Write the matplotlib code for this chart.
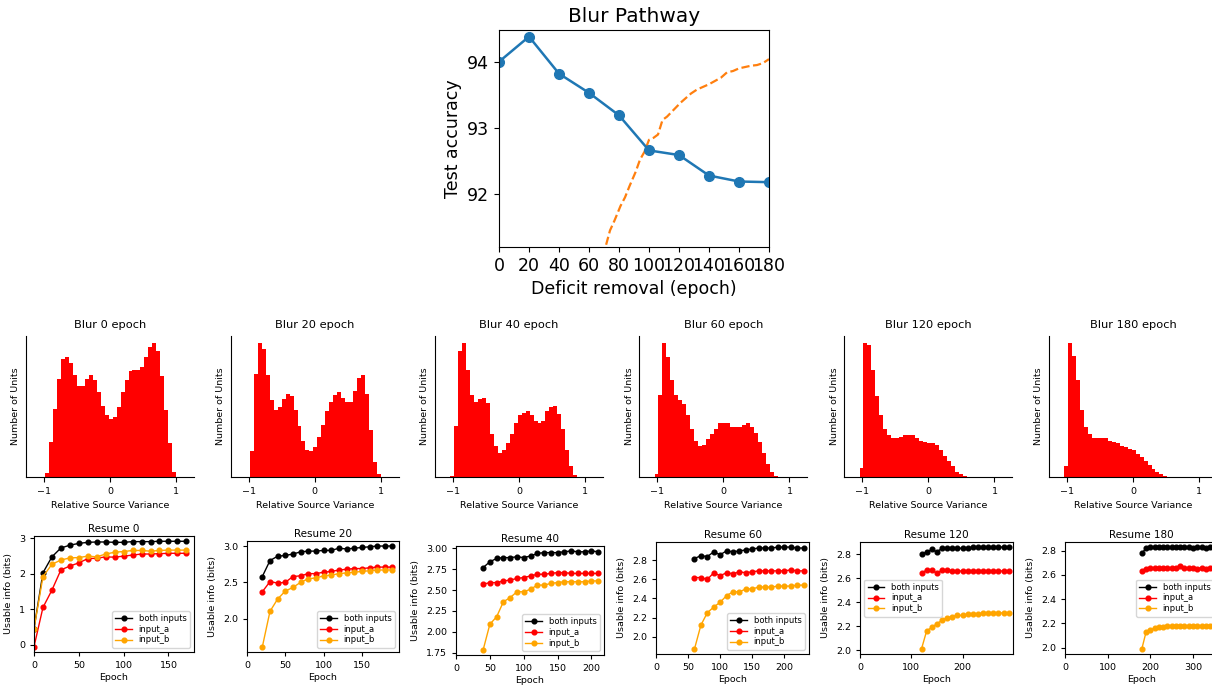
import matplotlib
matplotlib.use("Agg")
import matplotlib.pyplot as plt
import numpy as np

# ---- top panel: test accuracy vs deficit removal epoch ----
removal_epochs = [0, 20, 40, 60, 80, 100, 120, 140, 160, 180]
removal_acc = [94.0, 94.38, 93.82, 93.53, 93.19, 92.66, 92.59, 92.28, 92.19, 92.18]

control_epochs = [66, 71, 74, 77, 81, 84, 87, 91, 94, 97, 100, 103, 106, 109, 112, 115,
                  118, 121, 124, 128, 132, 136, 140, 144, 148, 152, 156, 160, 164,
                  168, 172, 176, 180]
control_acc = [90.9, 91.2, 91.45, 91.6, 91.82, 91.95, 92.12, 92.33, 92.52, 92.64, 92.82,
               92.85, 92.9, 93.12, 93.17, 93.24, 93.31, 93.38, 93.44, 93.52, 93.58,
               93.62, 93.66, 93.71, 93.76, 93.84, 93.86, 93.9, 93.92, 93.94, 93.95,
               93.98, 94.04]

# ---- histograms of relative source variance ----
hist_titles = ["Blur 0 epoch", "Blur 20 epoch", "Blur 40 epoch",
               "Blur 60 epoch", "Blur 120 epoch", "Blur 180 epoch"]
bin_edges = np.round(np.linspace(-1.04, 1.06, 36), 2)
blur0 = [0, 3, 26, 51, 73, 88, 89, 85, 76, 68, 68, 73, 76, 72, 63, 53, 46, 43, 45, 52,
         63, 72, 79, 80, 80, 82, 89, 97, 100, 94, 75, 50, 25, 3.5, 0]
blur20 = [0, 19, 77, 100, 95, 76, 57, 50, 52, 58, 62, 60, 50, 38, 27, 20, 19, 22, 30, 39,
          49, 56, 61, 63, 59, 56, 56, 64, 74, 76, 62, 35, 11, 2, 0]
blur40 = [1, 38, 94, 100, 80, 61, 56, 58, 59, 55, 32, 23, 18, 20, 25, 32, 40, 46, 48, 49,
          46, 42, 40, 42, 49, 52, 53, 47, 36, 20, 8, 1.5, 0.3, 0, 0]
blur60 = [2, 61, 100, 89, 72, 61, 57, 54, 46, 36, 27, 23, 24, 28, 32, 36, 40, 40, 40, 37,
          37, 37, 39, 40, 37, 33, 26, 18, 10, 4, 1, 0, 0, 0, 0]
blur120 = [7, 100, 98, 80, 60, 46, 36, 31, 29, 29, 30, 31, 31, 31, 29, 27, 26, 25, 25, 24,
           20, 16, 12, 8, 4, 2, 1, 0.3, 0, 0, 0, 0, 0, 0, 0]
blur180 = [8, 100, 90, 72, 50, 37, 32, 29, 29, 29, 29, 27, 26, 25, 23, 22, 21, 20, 17, 15,
           12, 9, 6, 4, 2, 0.5, 0, 0, 0, 0, 0, 0, 0, 0, 0]
hist_data = [blur0, blur20, blur40, blur60, blur120, blur180]

# ---- usable information after resuming ----
resume_titles = ["Resume 0", "Resume 20", "Resume 40", "Resume 60", "Resume 120", "Resume 180"]
resume_starts = [0, 20, 40, 60, 120, 180]

both_0 = [0.45, 2.03, 2.48, 2.73, 2.81, 2.86, 2.89, 2.90, 2.90, 2.89, 2.89, 2.91, 2.91,
          2.91, 2.92, 2.92, 2.92, 2.92]
a_0 = [-0.06, 1.05, 1.54, 2.11, 2.22, 2.31, 2.43, 2.44, 2.48, 2.47, 2.50, 2.53, 2.56,
       2.56, 2.57, 2.58, 2.58, 2.58]
b_0 = [0.45, 1.92, 2.27, 2.39, 2.45, 2.46, 2.50, 2.48, 2.56, 2.61, 2.63, 2.66, 2.66,
       2.64, 2.66, 2.67, 2.67, 2.67]

both_20 = [2.58, 2.80, 2.86, 2.87, 2.89, 2.92, 2.93, 2.93, 2.94, 2.94, 2.97, 2.96, 2.97,
           2.98, 2.99, 3.0, 3.0, 3.0]
a_20 = [2.37, 2.51, 2.49, 2.50, 2.58, 2.59, 2.62, 2.62, 2.64, 2.65, 2.67, 2.68, 2.69,
        2.69, 2.70, 2.71, 2.71, 2.71]
b_20 = [1.61, 2.10, 2.27, 2.38, 2.43, 2.50, 2.55, 2.56, 2.59, 2.60, 2.62, 2.63, 2.64,
        2.65, 2.66, 2.67, 2.67, 2.67]

both_40 = [2.77, 2.84, 2.88, 2.89, 2.89, 2.90, 2.89, 2.91, 2.94, 2.95, 2.95, 2.95, 2.96,
           2.97, 2.96, 2.96, 2.97, 2.96]
a_40 = [2.57, 2.59, 2.59, 2.61, 2.62, 2.64, 2.65, 2.67, 2.69, 2.69, 2.70, 2.71, 2.71,
        2.70, 2.70, 2.70, 2.70, 2.70]
b_40 = [1.78, 2.09, 2.18, 2.36, 2.41, 2.48, 2.48, 2.51, 2.56, 2.56, 2.58, 2.59, 2.60,
        2.60, 2.60, 2.60, 2.61, 2.61]

both_60 = [2.82, 2.85, 2.84, 2.89, 2.86, 2.90, 2.89, 2.90, 2.91, 2.92, 2.93, 2.93, 2.93,
           2.94, 2.94, 2.94, 2.93, 2.93]
a_60 = [2.62, 2.62, 2.60, 2.67, 2.64, 2.67, 2.66, 2.68, 2.67, 2.68, 2.69, 2.69, 2.69,
        2.69, 2.69, 2.70, 2.69, 2.69]
b_60 = [1.87, 2.12, 2.25, 2.31, 2.36, 2.43, 2.47, 2.47, 2.50, 2.50, 2.52, 2.52, 2.52,
        2.53, 2.53, 2.53, 2.54, 2.54]

both_120 = [2.80, 2.82, 2.84, 2.82, 2.85, 2.85, 2.85, 2.85, 2.85, 2.85, 2.86, 2.86, 2.86,
            2.86, 2.86, 2.86, 2.86, 2.86]
a_120 = [2.64, 2.67, 2.67, 2.64, 2.67, 2.67, 2.66, 2.66, 2.66, 2.66, 2.66, 2.66, 2.66,
         2.66, 2.66, 2.66, 2.66, 2.66]
b_120 = [2.01, 2.16, 2.19, 2.22, 2.25, 2.27, 2.28, 2.29, 2.29, 2.30, 2.30, 2.30, 2.31,
         2.31, 2.31, 2.31, 2.31, 2.31]

both_180 = [2.78, 2.82, 2.83, 2.83, 2.83, 2.83, 2.83, 2.83, 2.83, 2.83, 2.83, 2.83, 2.82,
            2.83, 2.83, 2.82, 2.83, 2.83]
a_180 = [2.63, 2.65, 2.66, 2.66, 2.66, 2.66, 2.66, 2.66, 2.66, 2.67, 2.66, 2.66, 2.66,
         2.65, 2.66, 2.65, 2.66, 2.66]
b_180 = [1.99, 2.13, 2.15, 2.16, 2.17, 2.17, 2.18, 2.18, 2.18, 2.18, 2.18, 2.18, 2.18,
         2.18, 2.18, 2.18, 2.18, 2.18]

resume_both = [both_0, both_20, both_40, both_60, both_120, both_180]
resume_a = [a_0, a_20, a_40, a_60, a_120, a_180]
resume_b = [b_0, b_20, b_40, b_60, b_120, b_180]
resume_yticks = [[0, 1, 2, 3], [2.0, 2.5, 3.0], [1.75, 2.0, 2.25, 2.5, 2.75, 3.0],
                 [2.0, 2.2, 2.4, 2.6, 2.8], [2.0, 2.2, 2.4, 2.6, 2.8], [2.0, 2.2, 2.4, 2.6, 2.8]]
legend_locs = ["lower right", "lower right", "lower right", "lower right",
               "center left", "center right"]

W, H = 1212, 688
fig = plt.figure(figsize=(W / 100, H / 100), dpi=100)


def add_box(left, top, right, bottom):
    # pixel box -> figure fraction
    return fig.add_axes([left / W, 1 - bottom / H, (right - left) / W, (bottom - top) / H])


# top panel
ax = add_box(499, 30, 769, 247)
ax.plot(control_epochs, control_acc, "--", color="tab:orange", linewidth=1.6)
ax.plot(removal_epochs, removal_acc, "-o", color="tab:blue", linewidth=1.8, markersize=7)
ax.set_xlim(0, 180)
ax.set_ylim(91.2, 94.48)
ax.set_xticks(removal_epochs)
ax.set_yticks([92, 93, 94])
ax.tick_params(labelsize=12.5)
ax.set_title("Blur Pathway", fontsize=14.5)
ax.set_xlabel("Deficit removal (epoch)", fontsize=12.5)
ax.set_ylabel("Test accuracy", fontsize=12.5)

# histogram row
hist_lefts = [26, 230.7, 435, 639.3, 844.3, 1049]
for left, title, heights in zip(hist_lefts, hist_titles, hist_data):
    hx = add_box(left, 336, left + 168, 477)
    hx.hist(bin_edges[:-1], bins=bin_edges, weights=heights, color="red")
    hx.set_xlim(-1.27, 1.27)
    hx.set_xticks([-1, 0, 1])
    hx.set_yticks([])
    hx.spines["top"].set_visible(False)
    hx.spines["right"].set_visible(False)
    hx.tick_params(labelsize=6.8)
    hx.set_title(title, fontsize=8.2)
    hx.set_xlabel("Relative Source Variance", fontsize=6.8)
    hx.set_ylabel("Number of Units", fontsize=6.8)

# resume row
resume_boxes = [(34, 536, 194, 652), (247, 541, 399, 652), (456, 546, 604, 655),
                (656, 542, 809, 654), (860, 542, 1013, 654), (1065, 542, 1218, 654)]
for i, box in enumerate(resume_boxes):
    rx = add_box(*box)
    ep = [resume_starts[i] + 10 * k for k in range(len(resume_both[i]))]
    rx.plot(ep, resume_both[i], "-o", color="black", markersize=3.4, linewidth=1, label="both inputs")
    rx.plot(ep, resume_a[i], "-o", color="red", markersize=3.4, linewidth=1, label="input_a")
    rx.plot(ep, resume_b[i], "-o", color="orange", markersize=3.4, linewidth=1, label="input_b")
    rx.set_xlim(left=0)
    rx.set_yticks(resume_yticks[i])
    rx.tick_params(labelsize=6.8, length=3)
    rx.set_title(resume_titles[i], fontsize=7.5, pad=3)
    rx.set_xlabel("Epoch", fontsize=6.8, labelpad=2)
    rx.set_ylabel("Usable info (bits)", fontsize=6.8)
    rx.legend(loc=legend_locs[i], fontsize=6, labelspacing=0.2)

fig.savefig("out.png", dpi=100)
